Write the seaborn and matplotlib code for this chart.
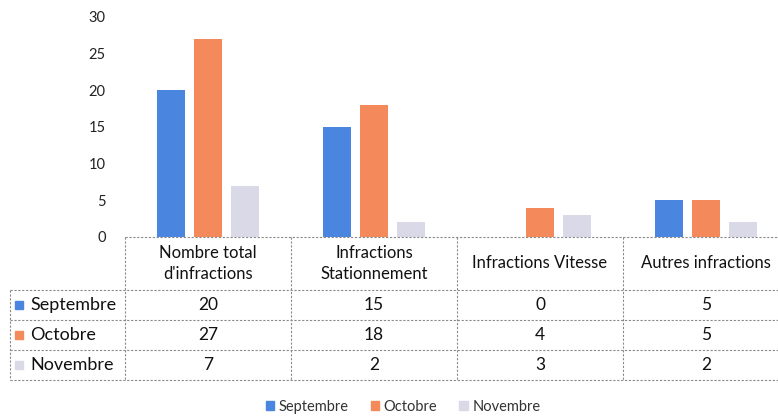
import pandas as pd
import matplotlib.pyplot as plt
import matplotlib.patches as mpatches
import matplotlib.transforms as mtransforms
import seaborn as sns

# --- data ---
categories = ["Nombre total\nd'infractions", "Infractions\nStationnement",
              "Infractions Vitesse", "Autres infractions"]
months = ["Septembre", "Octobre", "Novembre"]
septembre = [20, 15, 0, 5]
octobre = [27, 18, 4, 5]
novembre = [7, 2, 3, 2]
colors = ["#4a86e0", "#f4895c", "#d9d9e8"]

df = pd.DataFrame({
    "Catégorie": categories * 3,
    "Mois": [m for m in months for _ in categories],
    "Valeur": septembre + octobre + novembre,
})

# --- figure ---
sns.set_style("white")
plt.rcParams['font.family'] = ['Lato', 'DejaVu Sans']
W, H = 778, 418
fig = plt.figure(figsize=(W / 100, H / 100), dpi=100)

def fx(px):
    return px / W

def fy(py):
    return 1 - py / H

ax_left, ax_right, ax_top, ax_bot = 125, 789, 17, 237
ax = fig.add_axes([fx(ax_left), fy(ax_bot), fx(ax_right - ax_left), (ax_bot - ax_top) / H])

sns.barplot(data=df, x="Catégorie", y="Valeur", hue="Mois", order=categories,
            hue_order=months, palette=colors, saturation=1, width=0.67, gap=0.24,
            linewidth=0, ax=ax)

ax.set_ylim(0, 30)
ax.set_xlim(-0.5, len(categories) - 0.5)
ax.set_yticks(range(0, 31, 5))
ax.tick_params(axis="y", length=0, labelsize=10.5, pad=14, colors="#222222")
ax.set_xticks([])
ax.set_xlabel("")
ax.set_ylabel("")
for s in ax.spines.values():
    s.set_visible(False)
ax.get_legend().remove()

# --- data table under the axis ---
dash = (0, (2, 1.5))
blend = mtransforms.blended_transform_factory(ax.transData, fig.transFigure)
rows_px = [237, 290, 320, 350, 380]
n = len(categories)

# horizontal lines
ax.plot([-0.5, n - 0.5], [fy(rows_px[0])] * 2, transform=blend,
        color="#8a8a8a", lw=0.8, ls=dash, clip_on=False)
for r in rows_px[1:]:
    fig.add_artist(plt.Line2D([fx(10), fx(ax_right)], [fy(r)] * 2,
                              transform=fig.transFigure, color="#8a8a8a", lw=0.8, ls=dash))
# vertical lines
for i in range(n + 1):
    ax.plot([i - 0.5, i - 0.5], [fy(rows_px[0]), fy(rows_px[-1])], transform=blend,
            color="#8a8a8a", lw=0.8, ls=dash, clip_on=False)
fig.add_artist(plt.Line2D([fx(10), fx(10)], [fy(rows_px[1]), fy(rows_px[-1])],
                          transform=fig.transFigure, color="#8a8a8a", lw=0.8, ls=dash))

# header text
for i, cat in enumerate(categories):
    ax.text(i, fy((rows_px[0] + rows_px[1]) / 2), cat, transform=blend,
            ha="center", va="center", fontsize=12, linespacing=1.45, color="#111111")

# rows
series = [septembre, octobre, novembre]
for j, (m, vals) in enumerate(zip(months, series)):
    yc = fy((rows_px[j + 1] + rows_px[j + 2]) / 2)
    fig.add_artist(mpatches.Rectangle((fx(15), yc - 4 / H), fx(8), 8 / H,
                                      transform=fig.transFigure, color=colors[j]))
    fig.text(fx(30), yc, m, ha="left", va="center", fontsize=13, color="#111111")
    for i, v in enumerate(vals):
        ax.text(i, yc, str(v), transform=blend, ha="center", va="center",
                fontsize=12.5, color="#111111")

# legend
handles = [mpatches.Patch(color=c, label=m) for c, m in zip(colors, months)]
fig.legend(handles=handles, loc="center", bbox_to_anchor=(fx(403), fy(407)), ncol=3,
           frameon=False, fontsize=10.5, handlelength=0.6, handleheight=0.6,
           handletextpad=0.3, columnspacing=1.5, labelcolor="#333333")

fig.savefig("out.png", dpi=100)
